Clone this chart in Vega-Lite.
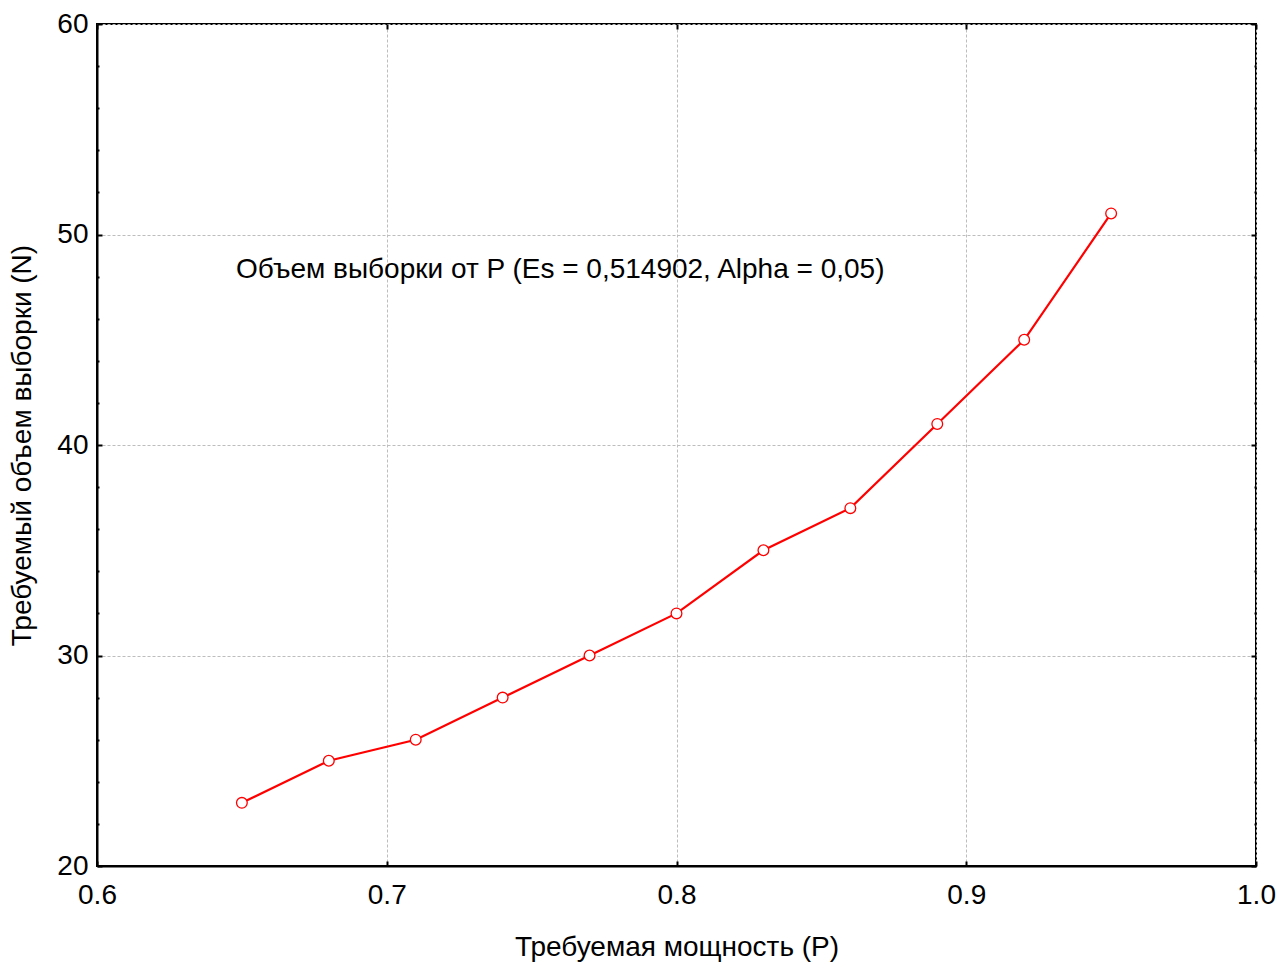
{
  "$schema": "https://vega.github.io/schema/vega-lite/v6.json",
  "width": 1159,
  "height": 842,
  "autosize": {"type": "none"},
  "padding": {"left": 97, "top": 24, "right": 24, "bottom": 97},
  "background": "white",
  "config": {
    "font": "Liberation Sans",
    "view": {"stroke": "black", "strokeWidth": 2},
    "axis": {
      "labelFont": "Liberation Sans",
      "titleFont": "Liberation Sans",
      "labelFontSize": 28,
      "titleFontSize": 28,
      "labelColor": "black",
      "titleColor": "black",
      "titleFontWeight": "normal",
      "domainColor": "black",
      "domainWidth": 2,
      "tickColor": "black",
      "tickWidth": 2,
      "gridColor": "#bdbdbd",
      "gridDash": [3, 2],
      "gridWidth": 1
    }
  },
  "data": {
    "values": [
      {"P": 0.65, "N": 23},
      {"P": 0.68, "N": 25},
      {"P": 0.71, "N": 26},
      {"P": 0.74, "N": 28},
      {"P": 0.77, "N": 30},
      {"P": 0.80, "N": 32},
      {"P": 0.83, "N": 35},
      {"P": 0.86, "N": 37},
      {"P": 0.89, "N": 41},
      {"P": 0.92, "N": 45},
      {"P": 0.95, "N": 51}
    ]
  },
  "resolve": {"axis": {"x": "independent", "y": "independent"}},
  "layer": [
    {
      "mark": {"type": "line", "color": "#ff0000", "strokeWidth": 2.2},
      "encoding": {
        "x": {
          "field": "P", "type": "quantitative",
          "scale": {"domain": [0.6, 1.0], "nice": false, "zero": false},
          "axis": {
            "values": [0.6, 0.7, 0.8, 0.9, 1.0],
            "format": ".1f",
            "title": "Требуемая мощность (P)",
            "tickSize": -5,
            "labelPadding": 20,
            "titlePadding": 24,
            "labelFlush": false
          }
        },
        "y": {
          "field": "N", "type": "quantitative",
          "scale": {"domain": [20, 60], "nice": false, "zero": false},
          "axis": {
            "values": [20, 22, 24, 26, 28, 30, 32, 34, 36, 38, 40, 42, 44, 46, 48, 50, 52, 54, 56, 58, 60],
            "labelExpr": "datum.value % 10 === 0 ? datum.label : ''",
            "tickSize": {"condition": {"test": "datum.value % 10 === 0", "value": -5}, "value": -2},
            "gridOpacity": {"condition": {"test": "datum.value % 10 === 0", "value": 1}, "value": 0},
            "title": "Требуемый объем выборки (N)",
            "labelPadding": 14,
            "titlePadding": 20,
            "labelFlush": false
          }
        }
      }
    },
    {
      "mark": {"type": "point", "shape": "circle", "filled": true, "fill": "white", "stroke": "#ff0000", "strokeWidth": 1.3, "size": 115, "opacity": 1},
      "encoding": {
        "x": {
          "field": "P", "type": "quantitative",
          "axis": {
            "orient": "top",
            "values": [0.6, 0.7, 0.8, 0.9, 1.0],
            "labels": false,
            "title": null,
            "grid": false,
            "domain": false,
            "tickSize": -5
          }
        },
        "y": {
          "field": "N", "type": "quantitative",
          "axis": {
            "orient": "right",
            "values": [20, 22, 24, 26, 28, 30, 32, 34, 36, 38, 40, 42, 44, 46, 48, 50, 52, 54, 56, 58, 60],
            "labels": false,
            "title": null,
            "grid": false,
            "domain": false,
            "tickSize": {"condition": {"test": "datum.value % 10 === 0", "value": -5}, "value": -2}
          }
        }
      }
    },
    {
      "data": {"values": [{"label": "Объем выборки от P (Es = 0,514902, Alpha = 0,05)"}]},
      "mark": {"type": "text", "align": "left", "baseline": "middle", "fontSize": 28, "font": "Liberation Sans", "fill": "black"},
      "encoding": {
        "text": {"field": "label"},
        "x": {"datum": 0.648, "type": "quantitative", "axis": null},
        "y": {"datum": 48.3, "type": "quantitative", "axis": null}
      }
    }
  ]
}
